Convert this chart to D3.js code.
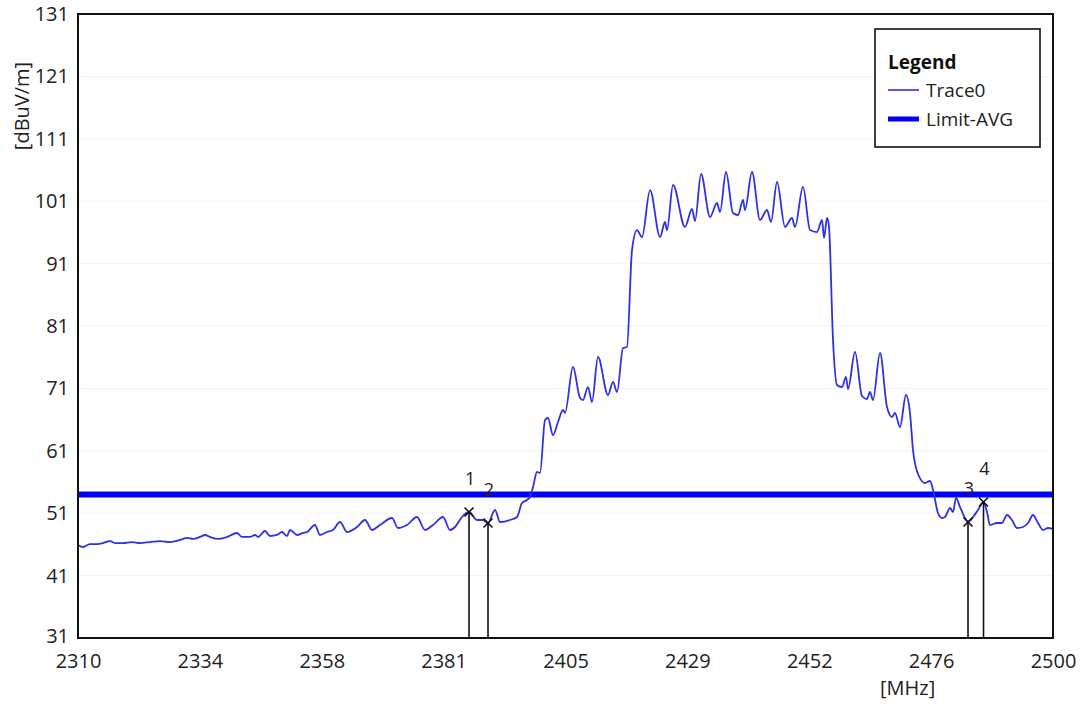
<!DOCTYPE html>
<html>
<head>
<meta charset="utf-8">
<script src="https://cdn.jsdelivr.net/npm/d3@7"></script>
<style>
  html, body { margin: 0; padding: 0; background: #fff; }
  svg { display: block; font-family: "Open Sans", "Noto Sans", sans-serif; }
</style>
</head>
<body>
<svg id="chart" width="1082" height="706"></svg>
<script>
// ---- data ----
const freqs = [
  2310.00, 2310.97, 2312.34, 2313.70, 2314.87, 2316.24, 2317.21, 2318.77, 2320.52, 2322.08,
  2324.03, 2325.98, 2327.93, 2329.88, 2331.24, 2332.41, 2333.77, 2334.75, 2335.72, 2337.28,
  2339.04, 2340.98, 2341.96, 2343.52, 2344.49, 2345.08, 2346.44, 2347.42, 2348.78, 2349.75,
  2350.73, 2351.31, 2352.68, 2353.85, 2354.63, 2356.18, 2357.16, 2358.52, 2359.69, 2361.06,
  2362.42, 2364.37, 2365.93, 2367.29, 2368.85, 2371.19, 2372.36, 2374.11, 2376.06, 2377.62,
  2379.18, 2381.13, 2382.49, 2383.47, 2384.83, 2386.20, 2387.75, 2388.92, 2389.90, 2391.26,
  2392.24, 2394.18, 2395.55, 2396.52, 2397.50, 2398.08, 2398.67, 2399.45, 2400.03, 2401.01,
  2401.59, 2402.56, 2403.54, 2404.51, 2404.90, 2406.46, 2407.83, 2408.41, 2409.38, 2410.16,
  2411.33, 2413.28, 2414.26, 2415.04, 2416.21, 2416.98, 2417.96, 2418.93, 2419.91, 2421.47,
  2423.42, 2424.39, 2424.78, 2425.95, 2428.29, 2429.65, 2430.24, 2431.41, 2433.16, 2434.52,
  2435.11, 2436.28, 2437.64, 2438.62, 2439.59, 2439.98, 2441.34, 2442.90, 2444.27, 2445.05,
  2446.22, 2447.77, 2449.14, 2449.72, 2451.28, 2452.65, 2454.01, 2454.99, 2455.38, 2455.96,
  2456.35, 2457.13, 2457.91, 2458.88, 2459.66, 2460.05, 2461.42, 2462.78, 2463.75, 2464.34,
  2464.92, 2466.29, 2467.65, 2468.63, 2469.21, 2470.18, 2471.35, 2472.13, 2472.72, 2473.69,
  2475.06, 2476.03, 2476.62, 2477.59, 2478.37, 2478.95, 2479.93, 2480.51, 2481.10, 2481.88,
  2482.85, 2483.44, 2484.41, 2485.38, 2486.46, 2487.14, 2487.72, 2489.09, 2490.06, 2491.04,
  2492.01, 2492.98, 2494.15, 2495.13, 2496.10, 2497.08, 2498.05, 2499.03, 2500.00
];
const levels = [
  45.90, 45.58, 46.06, 46.06, 46.22, 46.54, 46.22, 46.22, 46.38, 46.22,
  46.38, 46.54, 46.38, 46.71, 47.03, 46.87, 47.19, 47.51, 47.19, 46.87,
  47.19, 47.83, 47.19, 47.19, 47.51, 47.19, 48.15, 47.35, 47.51, 47.99,
  47.35, 48.31, 47.51, 47.83, 47.99, 49.11, 47.51, 47.99, 48.31, 49.59,
  47.99, 48.79, 49.91, 48.31, 49.11, 50.23, 48.63, 49.11, 50.39, 48.31,
  49.11, 50.39, 48.31, 48.79, 50.39, 51.19, 49.91, 49.91, 49.43, 51.51,
  49.59, 49.91, 50.39, 52.63, 53.12, 53.60, 55.20, 57.60, 57.44, 65.94,
  66.26, 63.53, 65.62, 67.54, 67.06, 74.43, 69.46, 69.14, 71.22, 68.82,
  76.03, 69.94, 72.03, 70.42, 77.47, 77.63, 93.18, 96.38, 95.26, 102.79,
  95.26, 97.67, 96.38, 103.60, 96.87, 99.75, 97.83, 105.36, 98.47, 100.71,
  99.27, 105.68, 99.11, 98.79, 101.19, 99.59, 105.68, 97.99, 99.59, 97.67,
  104.08, 96.87, 98.31, 96.87, 103.28, 96.38, 96.06, 97.99, 95.10, 98.31,
  96.87, 78.76, 71.54, 71.22, 72.83, 70.90, 76.83, 69.78, 69.30, 70.42,
  69.14, 76.67, 68.02, 66.42, 67.06, 64.81, 69.94, 67.06, 61.13, 57.28,
  55.84, 56.16, 54.72, 51.03, 50.23, 50.39, 51.83, 51.19, 53.44, 51.99,
  50.23, 49.59, 50.39, 51.51, 52.80, 51.19, 49.11, 49.43, 49.43, 50.71,
  49.91, 48.63, 48.79, 49.43, 50.71, 49.43, 48.31, 48.63, 48.47
];
const limitFreqs = [2310, 2500];
const limitLevels = [54, 54];

const markerLabels = ["1", "2", "3", "4"];
const markerFreqs = [2386.20, 2389.90, 2483.44, 2486.46];
const markerLevels = [51.19, 49.43, 49.59, 52.80];

const xTickValues = [2310, 2333.75, 2357.5, 2381.25, 2405, 2428.75, 2452.5, 2476.25, 2500];
const xTickLabels = ["2310", "2334", "2358", "2381", "2405", "2429", "2452", "2476", "2500"];
const yTickValues = [31, 41, 51, 61, 71, 81, 91, 101, 111, 121, 131];

const legendNames = ["Trace0", "Limit-AVG"];
const xTitle = "[MHz]";
const yTitle = "[dBuV/m]";

// ---- layout ----
const W = 1082, H = 706;
const margin = { top: 14, right: 29, bottom: 68, left: 78 };
const traceColor = "#3030e4";
const limitColor = "#0000ff";

const svg = d3.select("#chart");
const x = d3.scaleLinear().domain([2310, 2500]).range([margin.left, W - margin.right]);
const y = d3.scaleLinear().domain([31, 131]).range([H - margin.bottom, margin.top]);

// faint gridlines
svg.append("g")
  .selectAll("line")
  .data(yTickValues.slice(1, -1))
  .join("line")
  .attr("x1", x(2310)).attr("x2", x(2500))
  .attr("y1", d => y(d)).attr("y2", d => y(d))
  .attr("stroke", "#f2f2f2").attr("stroke-width", 1);

// axes
const xAxis = d3.axisBottom(x)
  .tickValues(xTickValues)
  .tickFormat((d, i) => xTickLabels[i])
  .tickSize(0).tickPadding(16);
const gx = svg.append("g")
  .attr("transform", `translate(0,${y(31)})`)
  .call(xAxis);
gx.select(".domain").remove();
gx.selectAll("text").attr("font-size", 20).attr("fill", "#222").attr("font-family", "'Open Sans', sans-serif");

const yAxis = d3.axisLeft(y)
  .tickValues(yTickValues)
  .tickFormat(d3.format("d"))
  .tickSize(0).tickPadding(9);
const gy = svg.append("g")
  .attr("transform", `translate(${x(2310)},0)`)
  .call(yAxis);
gy.select(".domain").remove();
gy.selectAll("text").attr("font-size", 20).attr("fill", "#222").attr("font-family", "'Open Sans', sans-serif");
gy.selectAll("text").filter(d => d === 31).attr("dy", "0.2em");

// axis titles
svg.append("text")
  .attr("x", 880).attr("y", 695)
  .attr("font-size", 20).attr("fill", "#222")
  .text(xTitle);
svg.append("text")
  .attr("transform", `translate(29,106) rotate(-90)`)
  .attr("text-anchor", "middle")
  .attr("font-size", 20).attr("fill", "#222")
  .text(yTitle);

// clip
svg.append("clipPath").attr("id", "plotclip")
  .append("rect")
  .attr("x", x(2310)).attr("y", y(131))
  .attr("width", x(2500) - x(2310)).attr("height", y(31) - y(131));

const plot = svg.append("g").attr("clip-path", "url(#plotclip)");

// limit line
const limitLine = d3.line().x(d => x(d[0])).y(d => y(d[1]));
plot.append("path")
  .datum(d3.zip(limitFreqs, limitLevels))
  .attr("d", limitLine)
  .attr("fill", "none")
  .attr("stroke", limitColor)
  .attr("stroke-width", 6);

// trace
const traceLine = d3.line()
  .x(d => x(d[0])).y(d => y(d[1]))
  .curve(d3.curveMonotoneX);
plot.append("path")
  .datum(d3.zip(freqs, levels))
  .attr("d", traceLine)
  .attr("fill", "none")
  .attr("stroke", traceColor)
  .attr("stroke-width", 1.8)
  .attr("stroke-linejoin", "round");

// markers
const markers = markerLabels.map((l, i) => ({ label: l, f: markerFreqs[i], v: markerLevels[i] }));
const mg = svg.append("g");
mg.selectAll("line.stem")
  .data(markers).join("line")
  .attr("class", "stem")
  .attr("x1", d => x(d.f)).attr("x2", d => x(d.f))
  .attr("y1", d => y(d.v)).attr("y2", y(31))
  .attr("stroke", "#111").attr("stroke-width", 1.6);
const cs = 4.5;
mg.selectAll("path.cross")
  .data(markers).join("path")
  .attr("class", "cross")
  .attr("d", d => {
    const cx = x(d.f), cy = y(d.v);
    return `M${cx - cs},${cy - cs}L${cx + cs},${cy + cs}M${cx - cs},${cy + cs}L${cx + cs},${cy - cs}`;
  })
  .attr("stroke", "#111").attr("stroke-width", 1.6).attr("fill", "none");
mg.selectAll("text.mlabel")
  .data(markers).join("text")
  .attr("class", "mlabel")
  .attr("x", d => x(d.f) + 1)
  .attr("y", d => y(d.v) - 34)
  .attr("text-anchor", "middle")
  .attr("dominant-baseline", "central")
  .attr("font-size", 18).attr("fill", "#222")
  .text(d => d.label);

// frame
svg.append("rect")
  .attr("x", x(2310)).attr("y", y(131))
  .attr("width", x(2500) - x(2310)).attr("height", y(31) - y(131))
  .attr("fill", "none").attr("stroke", "#111").attr("stroke-width", 2);

// legend
const lg = svg.append("g");
lg.append("rect")
  .attr("x", 875).attr("y", 29).attr("width", 165).attr("height", 118)
  .attr("fill", "#fff").attr("stroke", "#111").attr("stroke-width", 1.6);
lg.append("text")
  .attr("x", 888).attr("y", 69)
  .attr("font-size", 19).attr("font-weight", "bold").attr("fill", "#111")
  .text("Legend");
const legendStyles = [
  { color: traceColor, width: 1.6 },
  { color: limitColor, width: 5 }
];
legendNames.forEach((name, i) => {
  const ly = 90 + i * 29;
  lg.append("line")
    .attr("x1", 888).attr("x2", 919)
    .attr("y1", ly).attr("y2", ly)
    .attr("stroke", legendStyles[i].color)
    .attr("stroke-width", legendStyles[i].width);
  lg.append("text")
    .attr("x", 926).attr("y", ly)
    .attr("dominant-baseline", "central")
    .attr("font-size", 19).attr("fill", "#222")
    .text(name);
});
</script>
</body>
</html>
